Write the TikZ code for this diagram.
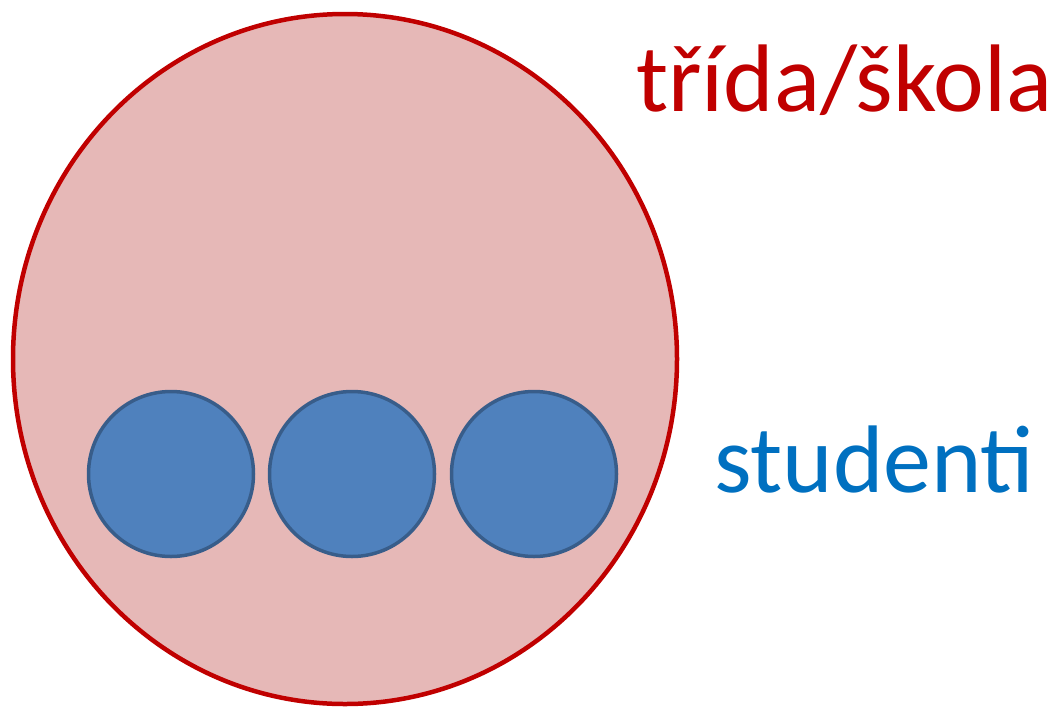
\documentclass[tikz,border=0pt]{standalone}
\usepackage{fontspec}
\setmainfont{Carlito}
\usetikzlibrary{shapes.geometric}
\definecolor{bigfill}{HTML}{E6B8B7}
\definecolor{bigdraw}{HTML}{C00000}
\definecolor{smfill}{HTML}{4F81BD}
\definecolor{smdraw}{HTML}{385D8A}
\definecolor{bluetext}{HTML}{0070C0}
\tikzset{
  outer/.style={ellipse, draw=bigdraw, fill=bigfill, line width=4.5pt, inner sep=0pt, minimum width=664pt, minimum height=690pt},
  student/.style={circle, draw=smdraw, fill=smfill, line width=3.5pt, inner sep=0pt, minimum size=165pt},
  label/.style={anchor=base west, inner sep=0pt, font=\fontsize{96}{110}\selectfont}
}
\begin{document}
\begin{tikzpicture}[x=1pt,y=-1pt]
\useasboundingbox (0,0) rectangle (1054,710);
\node[outer] (school) at (345,359) {};
\node[student] (s1) at (171,474) {};
\node[student] (s2) at (352,474) {};
\node[student] (s3) at (534,474) {};
\node[label, text=bigdraw] (schoollabel) at (636,111) {třída/škola};
\node[label, text=bluetext] (studlabel) at (714,492) {studenti};
\end{tikzpicture}
\end{document}
